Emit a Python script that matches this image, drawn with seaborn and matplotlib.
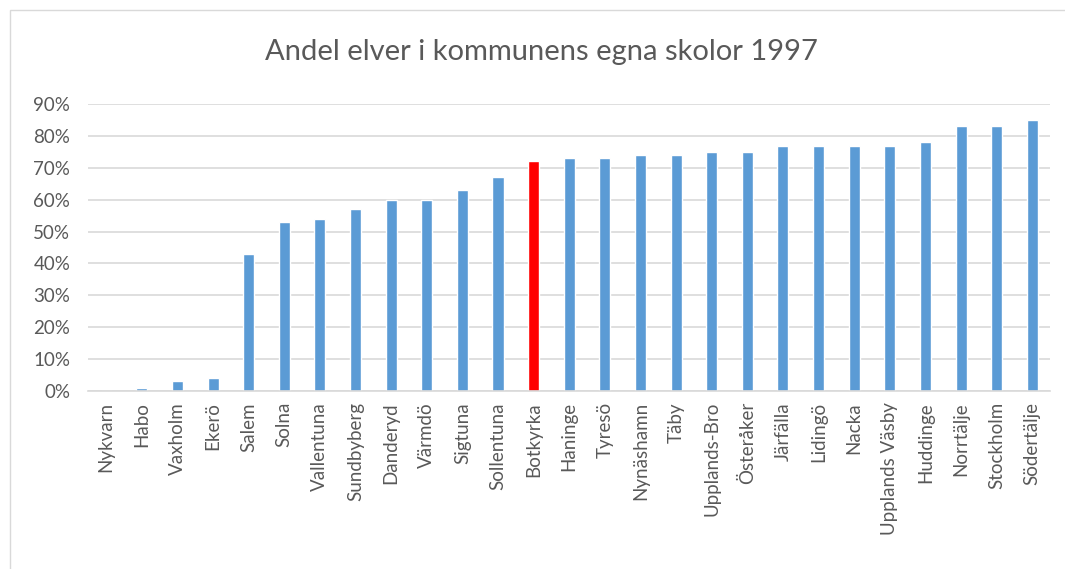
import matplotlib
matplotlib.use("Agg")
import matplotlib.pyplot as plt
import seaborn as sns
import pandas as pd
from matplotlib.patches import Rectangle
from matplotlib.ticker import PercentFormatter

# Kommuner och andel elever i kommunens egna skolor
kommuner = ["Nykvarn", "Habo", "Vaxholm", "Ekerö", "Salem", "Solna", "Vallentuna",
            "Sundbyberg", "Danderyd", "Värmdö", "Sigtuna", "Sollentuna", "Botkyrka",
            "Haninge", "Tyresö", "Nynäshamn", "Täby", "Upplands-Bro", "Österåker",
            "Järfälla", "Lidingö", "Nacka", "Upplands Väsby", "Huddinge", "Norrtälje",
            "Stockholm", "Södertälje"]
andel = [0, 1, 3, 4, 43, 53, 54, 57, 60, 60, 63, 67, 72, 73, 73, 74, 74, 75, 75,
         77, 77, 77, 77, 78, 83, 83, 85]
markerad = "Botkyrka"

df = pd.DataFrame({"kommun": kommuner, "andel": andel})
farger = {k: ("#FF0000" if k == markerad else "#5B9BD5") for k in kommuner}

sns.set_style("white")
plt.rcParams["font.family"] = ["Lato", "DejaVu Sans"]
textfarg = "#595959"

fig = plt.figure(figsize=(10.65, 5.69), dpi=100)
ax = fig.add_axes([0.083, 0.313, 0.903, 0.504])

sns.barplot(data=df, x="kommun", y="andel", hue="kommun", palette=farger,
            legend=False, width=0.31, saturation=1, ax=ax)

ax.set_ylim(0, 90)
ax.set_xlim(-0.5, len(kommuner) - 0.5)
ax.set_yticks(range(0, 91, 10))
ax.yaxis.set_major_formatter(PercentFormatter(decimals=0))
ax.grid(axis="y", color="#D9D9D9", linewidth=1.2)
ax.set_axisbelow(True)
for s in ["top", "right", "left"]:
    ax.spines[s].set_visible(False)
ax.spines["bottom"].set_color("#D9D9D9")
ax.spines["bottom"].set_linewidth(1.2)

ax.set_xticks(range(len(kommuner)))
ax.set_xticklabels(kommuner, rotation=90, fontsize=13.5, color=textfarg)
ax.tick_params(axis="x", which="major", length=0, pad=8)
ax.set_xticks([i - 0.5 for i in range(len(kommuner) + 1)], minor=True)
ax.tick_params(axis="x", which="minor", length=5, color="#D9D9D9", width=1.2)
ax.tick_params(axis="y", length=0, labelsize=13.5, labelcolor=textfarg, pad=13)
ax.set_xlabel("")
ax.set_ylabel("")

fig.text(0.508, 0.908, "Andel elver i kommunens egna skolor 1997", ha="center",
         va="center", fontsize=21, color=textfarg)

fig.patches.append(Rectangle((10 / 1065, -0.1), 1.2, 1 - 10 / 569 + 0.1,
                             transform=fig.transFigure, fill=False,
                             edgecolor="#D9D9D9", linewidth=1))

fig.savefig("out.png", dpi=100)
